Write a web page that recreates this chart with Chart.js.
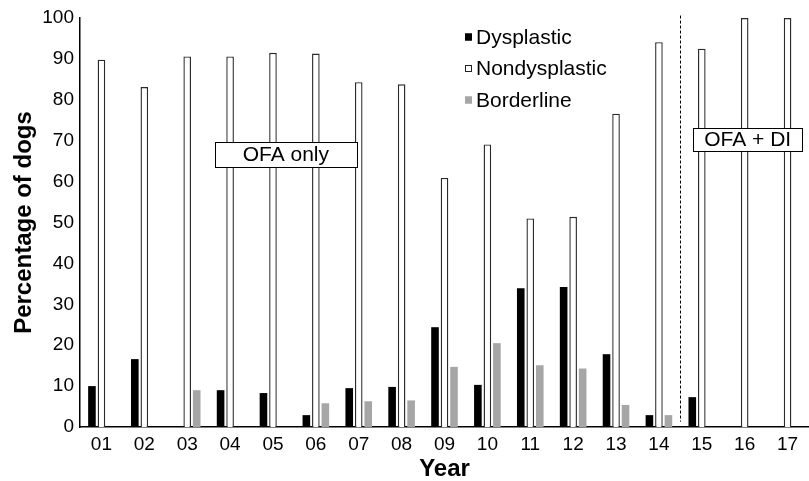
<!DOCTYPE html>
<html>
<head>
<meta charset="utf-8">
<script src="https://cdn.jsdelivr.net/npm/chart.js@4/dist/chart.umd.min.js"></script>
<style>
  html, body { margin: 0; padding: 0; background: #fff; }
  #wrap { width: 809px; height: 481px; }
</style>
</head>
<body>
<div id="wrap"><canvas id="bar-chart"></canvas></div>
<script>
var years = ["01","02","03","04","05","06","07","08","09","10","11","12","13","14","15","16","17"];
var dysplastic = [10.0,16.6,null,9.0,8.3,2.9,9.5,9.8,24.4,10.3,33.9,34.2,17.8,2.9,7.3,null,null];
var nondysplastic = [89.8,83.1,90.6,90.6,91.5,91.3,84.3,83.8,60.9,69.1,51.0,51.4,76.6,94.1,92.5,100,100];
var borderline = [null,null,9.0,null,null,5.8,6.3,6.5,14.7,20.5,15.1,14.3,5.4,2.9,null,null,null];
var yTicks = [0,10,20,30,40,50,60,70,80,90,100];

var FONT = "'Liberation Sans', Arial, sans-serif";

// legend, period boxes and the dashed divider
var extras = {
    id: 'extras',
    afterDatasetsDraw: function(chart) {
        var ctx = chart.ctx;
        var x = chart.scales.x, y = chart.scales.y;
        ctx.save();

        // divider between 14 and 15
        ctx.strokeStyle = '#000';
        ctx.lineWidth = 1;
        ctx.setLineDash([3, 2]);
        var dx = Math.round(x.getPixelForValue(13.5)) + 0.5;
        ctx.beginPath();
        ctx.moveTo(dx, y.getPixelForValue(100.6));
        ctx.lineTo(dx, y.getPixelForValue(1.3));
        ctx.stroke();
        ctx.setLineDash([]);

        function box(text, xi, yv, w, h) {
            var cx = x.getPixelForValue(xi), cy = y.getPixelForValue(yv);
            ctx.fillStyle = '#fff';
            ctx.fillRect(cx - w / 2, cy - h / 2, w, h);
            ctx.strokeStyle = '#000';
            ctx.lineWidth = 1;
            ctx.strokeRect(Math.round(cx - w / 2) + 0.5, Math.round(cy - h / 2) + 0.5, w, h);
            ctx.fillStyle = '#000';
            ctx.font = '21px ' + FONT;
            ctx.textAlign = 'center';
            ctx.textBaseline = 'middle';
            ctx.fillText(text, cx, cy + 1);
        }
        box('OFA only', 4.3, 66.6, 142, 25);
        box('OFA + DI', 15.07, 70.3, 109, 23);

        // legend
        var items = [['Dysplastic', '#000', '#000'], ['Nondysplastic', '#fff', '#222'], ['Borderline', '#a6a6a6', '#a6a6a6']];
        ctx.font = '21px ' + FONT;
        ctx.textAlign = 'left';
        ctx.textBaseline = 'middle';
        items.forEach(function(it, i) {
            var ly = 37 + i * 31.5;
            ctx.fillStyle = it[1];
            ctx.fillRect(465, ly - 3.5, 7, 7);
            ctx.strokeStyle = it[2];
            ctx.strokeRect(465.5, ly - 3, 6, 6);
            ctx.fillStyle = '#000';
            ctx.fillText(it[0], 476, ly + 1);
        });
        ctx.restore();
    }
};

new Chart(document.getElementById("bar-chart"), {
    type: 'bar',
    data: {
        labels: years,
        datasets: [{
            label: "Dysplastic",
            data: dysplastic,
            backgroundColor: "#000",
            borderColor: "#000",
            borderWidth: 0
        }, {
            label: "Nondysplastic",
            data: nondysplastic,
            backgroundColor: "#fff",
            borderColor: "#2a2a2a",
            borderWidth: 1.4
        }, {
            label: "Borderline",
            data: borderline,
            backgroundColor: "#a6a6a6",
            borderWidth: 0
        }]
    },
    options: {
        responsive: true,
        maintainAspectRatio: false,
        animation: false,
        datasets: { bar: { categoryPercentage: 0.665, barPercentage: 0.8 } },
        layout: { padding: { top: 18, right: 0, bottom: 0, left: 0 } },
        plugins: {
            legend: { display: false },
            tooltip: { enabled: false }
        },
        scales: {
            x: {
                grid: { display: false, drawTicks: false },
                border: { display: true, color: '#000', width: 1.5 },
                ticks: { color: '#000', font: { family: FONT, size: 19 }, padding: 6, maxRotation: 0 },
                title: {
                    display: true, text: 'Year', color: '#000',
                    font: { family: FONT, size: 24, weight: 'bold', lineHeight: 1.0 },
                    padding: { top: 0, bottom: 0 }
                },
                afterFit: function(s) { s.height = 54; }
            },
            y: {
                min: 0, max: 100,
                afterBuildTicks: function(s) { s.ticks = yTicks.map(function(v) { return { value: v }; }); },
                grid: { display: false, drawTicks: false },
                border: { display: true, color: '#000', width: 1.5 },
                ticks: { color: '#000', font: { family: FONT, size: 19 }, padding: 6 },
                title: {
                    display: true, text: 'Percentage of dogs', color: '#000',
                    font: { family: FONT, size: 24, weight: 'bold', lineHeight: 1.0 },
                    padding: { top: 12, bottom: 0 }
                },
                afterFit: function(s) { s.width = 80; }
            }
        }
    },
    plugins: [extras]
});
</script>
</body>
</html>
